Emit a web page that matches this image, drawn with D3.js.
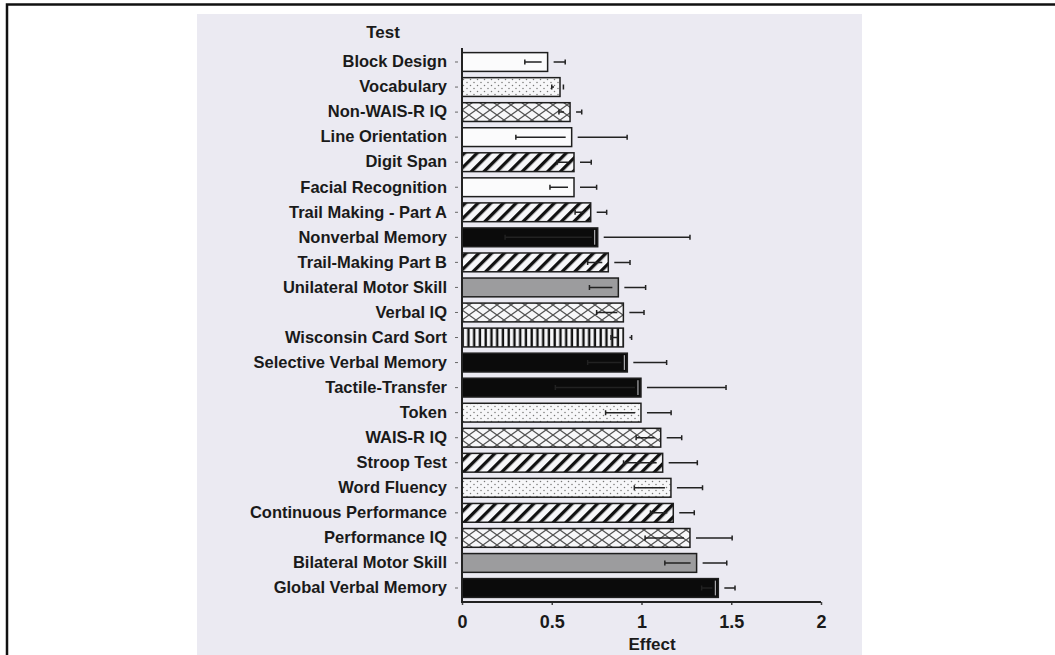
<!DOCTYPE html>
<html>
<head>
<meta charset="utf-8">
<script src="https://cdn.jsdelivr.net/npm/d3@7"></script>
<style>
  html, body { margin: 0; padding: 0; background: #fff; }
  svg { display: block; font-family: "Liberation Sans", Arial, sans-serif; font-weight: bold; }
</style>
</head>
<body>
<svg id="chart" width="1055" height="655"></svg>
<script>
// effect sizes per neuropsychological test, with confidence limits
const tests = [
  "Block Design", "Vocabulary", "Non-WAIS-R IQ", "Line Orientation", "Digit Span",
  "Facial Recognition", "Trail Making - Part A", "Nonverbal Memory", "Trail-Making Part B",
  "Unilateral Motor Skill", "Verbal IQ", "Wisconsin Card Sort", "Selective Verbal Memory",
  "Tactile-Transfer", "Token", "WAIS-R IQ", "Stroop Test", "Word Fluency",
  "Continuous Performance", "Performance IQ", "Bilateral Motor Skill", "Global Verbal Memory"
];
const effects = [0.477, 0.546, 0.602, 0.611, 0.624, 0.624, 0.717, 0.756, 0.815, 0.871, 0.899,
  0.899, 0.921, 0.997, 0.997, 1.107, 1.118, 1.164, 1.177, 1.27, 1.307, 1.428];
const ciLow = [0.35, 0.50, 0.54, 0.30, 0.53, 0.49, 0.63, 0.24, 0.70, 0.71, 0.75,
  0.83, 0.70, 0.52, 0.80, 0.97, 0.90, 0.96, 1.05, 1.02, 1.13, 1.335];
const ciHigh = [0.575, 0.565, 0.667, 0.92, 0.72, 0.75, 0.806, 1.27, 0.936, 1.023, 1.014,
  0.945, 1.14, 1.471, 1.165, 1.224, 1.311, 1.34, 1.294, 1.505, 1.475, 1.521];
const groups = [
  "spatial", "language", "iq", "spatial", "attention", "spatial", "attention", "memory",
  "attention", "motor", "iq", "executive", "memory", "memory", "language", "iq",
  "attention", "language", "attention", "iq", "motor", "memory"
];
const xTicks = [0, 0.5, 1, 1.5, 2];
const xTickLabels = ["0", "0.5", "1", "1.5", "2"];

const svg = d3.select("#chart");
const defs = svg.append("defs");

// page frame + scanned paper area
svg.append("rect").attr("x", 197).attr("y", 14).attr("width", 665).attr("height", 641)
  .attr("fill", "#ebeaf2");
svg.append("path").attr("d", "M7,655V4.5H1055").attr("fill", "none")
  .attr("stroke", "#111").attr("stroke-width", 2.5);

// fill patterns
const pDots = defs.append("pattern").attr("id", "p-dots").attr("patternUnits", "userSpaceOnUse")
  .attr("width", 7).attr("height", 6);
pDots.append("rect").attr("width", 7).attr("height", 6).attr("fill", "#f7f7f9");
pDots.append("circle").attr("cx", 1.5).attr("cy", 1.5).attr("r", 0.75).attr("fill", "#777");
pDots.append("circle").attr("cx", 5).attr("cy", 4.5).attr("r", 0.75).attr("fill", "#777");

const pCross = defs.append("pattern").attr("id", "p-cross").attr("patternUnits", "userSpaceOnUse")
  .attr("width", 14).attr("height", 10);
pCross.append("rect").attr("width", 14).attr("height", 10).attr("fill", "#f7f7f9");
pCross.append("path").attr("d", "M-1,-0.7L15,10.7M-1,10.7L15,-0.7")
  .attr("stroke", "#555").attr("stroke-width", 1.3);

const pDiag = defs.append("pattern").attr("id", "p-diag").attr("patternUnits", "userSpaceOnUse")
  .attr("width", 9).attr("height", 9).attr("patternTransform", "rotate(45)");
pDiag.append("rect").attr("width", 9).attr("height", 9).attr("fill", "#f7f7f9");
pDiag.append("rect").attr("x", 3).attr("width", 3.3).attr("height", 9).attr("fill", "#111");

const pVert = defs.append("pattern").attr("id", "p-vert").attr("patternUnits", "userSpaceOnUse")
  .attr("width", 5.75).attr("height", 10);
pVert.append("rect").attr("width", 5.75).attr("height", 10).attr("fill", "#f7f7f9");
pVert.append("rect").attr("x", 1.5).attr("width", 2.4).attr("height", 10).attr("fill", "#111");

const fillFor = {
  spatial: "#fbfbfc",
  language: "url(#p-dots)",
  iq: "url(#p-cross)",
  attention: "url(#p-diag)",
  memory: "#0b0b0b",
  motor: "#9c9c9e",
  executive: "url(#p-vert)"
};

const data = tests.map((t, i) => ({
  test: t, effect: effects[i], lo: ciLow[i], hi: ciHigh[i], group: groups[i]
}));

const x = d3.scaleLinear().domain([0, 2]).range([462, 821]);
const y = d3.scaleBand().domain(tests).range([49, 601])
  .paddingInner(0.25).paddingOuter(0.144);

// bars
svg.selectAll(".bar")
  .data(data)
  .enter().append("rect")
  .attr("class", "bar")
  .attr("x", x(0))
  .attr("y", d => y(d.test))
  .attr("width", d => x(d.effect) - x(0))
  .attr("height", y.bandwidth())
  .attr("fill", d => fillFor[d.group])
  .attr("stroke", "#1e1e1e")
  .attr("stroke-width", 1.5);

// light edge inside the solid black bars
svg.selectAll(".shine")
  .data(data.filter(d => d.group === "memory"))
  .enter().append("line")
  .attr("x1", d => x(d.effect) - 3).attr("x2", d => x(d.effect) - 3)
  .attr("y1", d => y(d.test) + 2).attr("y2", d => y(d.test) + y.bandwidth() - 2)
  .attr("stroke", "#c8c8cc").attr("stroke-width", 1);

// confidence intervals, broken around the bar end
const gap = 6, cap = 2.5;
const ci = svg.selectAll(".ci").data(data).enter().append("g").attr("class", "ci")
  .attr("stroke", "#222").attr("stroke-width", 1.5).attr("fill", "none");
ci.append("path").attr("d", d => {
  const cy = y(d.test) + y.bandwidth() / 2;
  const lo = x(d.lo), v = x(d.effect), hi = x(d.hi);
  const innerEnd = Math.max(lo, v - gap);
  const outerStart = Math.min(hi, v + gap);
  return `M${lo},${cy - cap}V${cy + cap}M${lo},${cy}H${innerEnd}` +
    `M${outerStart},${cy}H${hi}M${hi},${cy - cap}V${cy + cap}`;
});

// y axis with category labels
const yAxis = svg.append("g")
  .attr("transform", "translate(458,0)")
  .call(d3.axisLeft(y).tickSize(3).tickPadding(8));
yAxis.select(".domain").remove();
yAxis.selectAll(".tick line").attr("stroke", "#666");
yAxis.selectAll(".tick text").attr("font-size", 16.5).attr("fill", "#1a1a1a")
  .attr("font-family", "'Liberation Sans', Arial, sans-serif").attr("font-weight", "bold");

svg.append("line").attr("x1", x(0)).attr("x2", x(0)).attr("y1", 48).attr("y2", 602)
  .attr("stroke", "#222").attr("stroke-width", 2);

// x axis
const xAxis = svg.append("g")
  .attr("transform", "translate(0,602)")
  .call(d3.axisBottom(x).tickValues(xTicks).tickSize(3)
    .tickFormat((d, i) => xTickLabels[i]));
xAxis.select(".domain").remove();
xAxis.selectAll(".tick line").attr("stroke", "#444").attr("stroke-width", 1.5);
xAxis.selectAll(".tick text").attr("y", 26).attr("dy", 0).attr("font-size", 18)
  .attr("fill", "#1a1a1a")
  .attr("font-family", "'Liberation Sans', Arial, sans-serif").attr("font-weight", "bold");
svg.append("line").attr("x1", x(0) - 1).attr("x2", x(2)).attr("y1", 602).attr("y2", 602)
  .attr("stroke", "#222").attr("stroke-width", 2);

// titles
svg.append("text").attr("x", 383).attr("y", 38).attr("text-anchor", "middle")
  .attr("font-size", 17).attr("fill", "#1a1a1a").text("Test");
svg.append("text").attr("x", 652).attr("y", 650).attr("text-anchor", "middle")
  .attr("font-size", 17).attr("fill", "#1a1a1a").text("Effect");
</script>
</body>
</html>
